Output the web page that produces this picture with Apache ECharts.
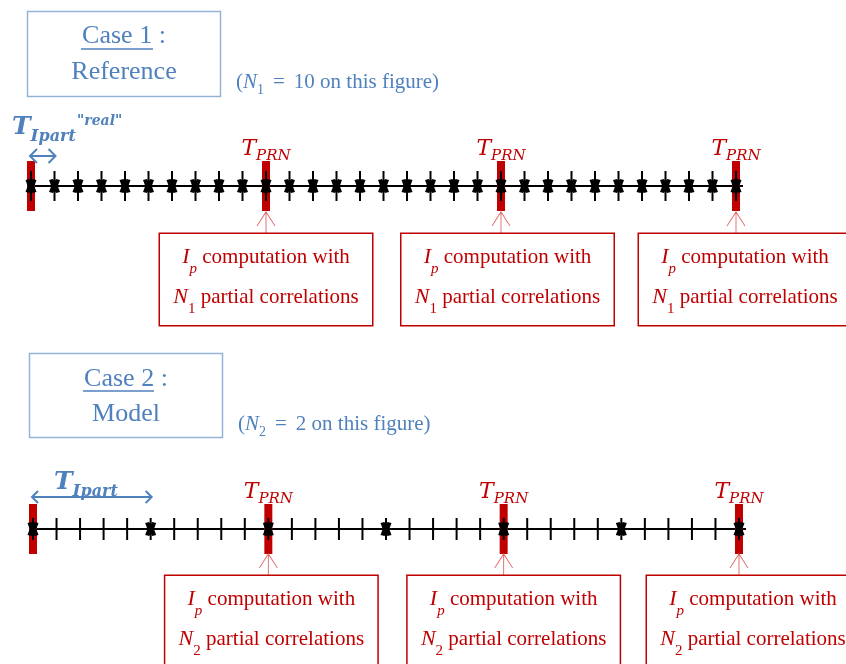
<!DOCTYPE html>
<html><head><meta charset="utf-8">
<script src="https://cdn.jsdelivr.net/npm/echarts@6/dist/echarts.min.js"></script>
<style>html,body{margin:0;padding:0;background:#fff}#c{width:846px;height:664px}</style>
</head><body><div id="c"></div>
<script>
// ---------- data ----------
const case1Ticks = [0,1,2,3,4,5,6,7,8,9,10,11,12,13,14,15,16,17,18,19,20,21,22,23,24,25,26,27,28,29,30];
const case1Stars = [0,1,2,3,4,5,6,7,8,9,10,11,12,13,14,15,16,17,18,19,20,21,22,23,24,25,26,27,28,29,30];
const case1PRN = [0,10,20,30];
const case1Computations = [10,20,30];
const case1Ipart = [0,1];
const case2Ticks = [0,1,2,3,4,5,6,7,8,9,10,11,12,13,14,15,16,17,18,19,20,21,22,23,24,25,26,27,28,29,30];
const case2Stars = [0,5,10,15,20,25,30];
const case2PRN = [0,10,20,30];
const case2Computations = [10,20,30];
const case2Ipart = [0,5];
const caseTitles = ['Case 1', 'Case 2'];
const caseNames = ['Reference', 'Model'];
const caseN = ['1', '2'];
const caseNValues = ['10', '2'];
const boxLine1 = ' computation with';
const boxLine2 = ' partial correlations';

// ---------- styles ----------
const BLUE = '#4f81bd', BLUE_BORDER = '#95b3d7', RED = '#c00000', PTR = '#e06666';
const SERIF = 'Liberation Serif', MATH = 'DejaVu Serif';
const STAR = 'path://M0,1 L4,0 L5.5,2.5 L7,0 L11,1 L8.8,7 L11,13 L7,14 L5.5,11.5 L4,14 L0,13 L2.2,7 Z';
const POINTER = 'path://M0,14 L9,0 L18,14 M9,0 L9,22';
const layout = [
  {tickH: 30, ptrOff: 37, boxDist: 48, boxShift: [0, 6.5, 9],
   ipart: {rise: 30, head: 7, tx: -19, ty: -47, real: true, rx: 46, ry: -35, x2pad: 1}},
  {tickH: 22, ptrOff: 36, boxDist: 47, boxShift: [3, 10, 14],
   ipart: {rise: 32, head: 6, tx: 21, ty: -33, real: false, x2pad: 1}}
];
function rs(o, c) { o.color = c; o.fill = c; return o; }

const tprnRich = {
  T: rs({fontFamily: MATH, fontStyle: 'italic', fontSize: 22, lineHeight: 30}, RED),
  s: rs({fontFamily: MATH, fontStyle: 'italic', fontSize: 15, lineHeight: 18, verticalAlign: 'bottom'}, RED)
};
const ipartRich = {
  T: rs({fontFamily: MATH, fontStyle: 'italic', fontWeight: 'bold', fontSize: 25, lineHeight: 36}, BLUE),
  i: rs({fontFamily: MATH, fontStyle: 'italic', fontWeight: 'bold', fontSize: 17, lineHeight: 28, verticalAlign: 'bottom'}, BLUE),
  p: rs({fontFamily: MATH, fontStyle: 'italic', fontWeight: 'bold', fontSize: 16, lineHeight: 14, verticalAlign: 'bottom'}, BLUE)
};
const boxRich = {
  t: rs({fontFamily: SERIF, fontSize: 21, lineHeight: 40}, RED),
  m: rs({fontFamily: SERIF, fontStyle: 'italic', fontSize: 22, lineHeight: 40}, RED),
  s: rs({fontFamily: SERIF, fontStyle: 'italic', fontSize: 15, lineHeight: 26, verticalAlign: 'bottom'}, RED),
  n: rs({fontFamily: SERIF, fontSize: 15, lineHeight: 26, verticalAlign: 'bottom'}, RED)
};

function caseSeries(gi, ticks, stars, prn, comps, ipart) {
  const L = layout[gi];
  const axisArgs = {xAxisIndex: gi, yAxisIndex: gi, silent: true, clip: false, animation: false};
  return [
    // time axis line
    Object.assign({type: 'custom', z: 1, data: [[ticks[0], ticks[ticks.length - 1]]],
      renderItem(params, api) {
        const a = api.coord([api.value(0), 0]);
        const b = api.coord([api.value(1), 0]);
        return {type: 'line', shape: {x1: a[0] - 3, y1: a[1], x2: b[0] + 7, y2: b[1]},
          style: {stroke: '#000', lineWidth: 2}};
      }}, axisArgs),
    // PRN red bars
    Object.assign({type: 'scatter', z: 2, symbol: 'rect', symbolSize: [8, 50],
      itemStyle: {color: RED, opacity: 1}, data: prn.map(v => [v, 0])}, axisArgs),
    // ticks
    Object.assign({type: 'scatter', z: 3, symbol: 'rect', symbolSize: [2, L.tickH],
      itemStyle: {color: '#000', opacity: 1}, data: ticks.map(v => [v, 0])}, axisArgs),
    // partial correlation stars
    Object.assign({type: 'scatter', z: 4, symbol: STAR, symbolSize: [11, 14],
      itemStyle: {color: '#000', opacity: 1}, data: stars.map(v => [v, 0])}, axisArgs),
    // pointers
    Object.assign({type: 'scatter', z: 3, symbol: POINTER, symbolSize: [18, 22], symbolOffset: [0, L.ptrOff],
      itemStyle: {color: 'rgba(0,0,0,0)', borderColor: PTR, borderWidth: 1, opacity: 1}, data: comps.map(v => [v, 0])}, axisArgs),
    // T_PRN labels
    Object.assign({type: 'scatter', z: 5, symbolSize: 0, itemStyle: {color: 'rgba(0,0,0,0)', opacity: 1},
      label: {show: true, position: 'top', distance: 22, formatter: '{T|T}{s|PRN}', rich: tprnRich},
      data: comps.map(v => [v, 0])}, axisArgs),
    // computation boxes
    Object.assign({type: 'scatter', z: 6, symbolSize: 0, itemStyle: {color: 'rgba(0,0,0,0)', opacity: 1},
      label: {show: true, position: 'bottom', distance: L.boxDist, align: 'center',
        formatter: '{m|I}{s|p}{t|' + boxLine1 + '}\n{m|N}{n|' + caseN[gi] + '}{t|' + boxLine2 + '}',
        rich: boxRich, backgroundColor: '#fff', borderColor: RED, borderWidth: 1.5,
        width: 212, height: 80, padding: [3, 0, 8, 0]},
      data: comps.map((v, k) => ({value: [v, 0], label: {offset: [L.boxShift[k], 0]}}))}, axisArgs),
    // T_Ipart double arrow
    Object.assign({type: 'custom', z: 5, data: [ipart],
      renderItem(params, api) {
        const o = L.ipart;
        const a = api.coord([api.value(0), 0]);
        const b = api.coord([api.value(1), 0]);
        const y = a[1] - o.rise;
        const x1 = a[0] - 1, x2 = b[0] + o.x2pad, h = o.head;
        const kids = [
          {type: 'line', shape: {x1: x1, y1: y, x2: x2, y2: y}, style: {stroke: BLUE, lineWidth: 2}},
          {type: 'polyline', shape: {points: [[x1 + h, y - h], [x1, y], [x1 + h, y + h]]}, style: {stroke: BLUE, lineWidth: 2, fill: null}},
          {type: 'polyline', shape: {points: [[x2 - h, y - h], [x2, y], [x2 - h, y + h]]}, style: {stroke: BLUE, lineWidth: 2, fill: null}},
          {type: 'text', x: a[0] + o.tx, y: y + o.ty, style: {text: '{T|T}{i|I}{p|part}', rich: ipartRich, fill: BLUE, align: 'left', verticalAlign: 'top'}}
        ];
        if (o.real) kids.push({type: 'text', x: a[0] + o.rx, y: y + o.ry,
          style: {text: '"real"', fontFamily: MATH, fontStyle: 'italic', fontWeight: 'bold', fontSize: 14, fill: BLUE, align: 'left', verticalAlign: 'middle'}});
        return {type: 'group', children: kids};
      }}, axisArgs)
  ];
}

const noteRich = {
  p: rs({fontFamily: SERIF, fontSize: 21, lineHeight: 30}, BLUE),
  n: rs({fontFamily: SERIF, fontStyle: 'italic', fontSize: 21, lineHeight: 30}, BLUE),
  s: rs({fontFamily: SERIF, fontSize: 14, lineHeight: 22, verticalAlign: 'bottom'}, BLUE),
  e: rs({fontFamily: SERIF, fontSize: 21, lineHeight: 30, padding: [0, 9, 0, 9]}, BLUE)
};
function titleGraphics(k, box, line1Y, line2Y, ul, noteX, noteY) {
  const cx = box.x + box.w / 2;
  const font = {fontFamily: SERIF, fontSize: 26, fill: BLUE, align: 'center', verticalAlign: 'middle'};
  return [
    {type: 'rect', shape: {x: box.x, y: box.y, width: box.w, height: box.h}, style: {fill: '#fff', stroke: BLUE_BORDER, lineWidth: 1.5}},
    {type: 'text', x: cx, y: line1Y, style: Object.assign({text: caseTitles[k] + ' :'}, font)},
    {type: 'line', shape: {x1: ul[0], y1: ul[2], x2: ul[1], y2: ul[2]}, style: {stroke: BLUE, lineWidth: 1.5}},
    {type: 'text', x: cx, y: line2Y, style: Object.assign({text: caseNames[k]}, font)},
    {type: 'text', x: noteX, y: noteY, style: {text: '{p|(}{n|N}{s|' + caseN[k] + '}{e|=}{p|' + caseNValues[k] + ' on this figure)}', rich: noteRich, fill: BLUE, align: 'left', verticalAlign: 'middle'}}
  ];
}

const chart = echarts.init(document.getElementById('c'));
chart.setOption({
  animation: false,
  backgroundColor: '#fff',
  grid: [
    {left: 31, width: 705, top: 161, height: 50},
    {left: 33, width: 706, top: 504, height: 50}
  ],
  xAxis: [
    {gridIndex: 0, type: 'value', min: 0, max: 30, show: false},
    {gridIndex: 1, type: 'value', min: 0, max: 30, show: false}
  ],
  yAxis: [
    {gridIndex: 0, type: 'value', min: -1, max: 1, show: false},
    {gridIndex: 1, type: 'value', min: -1, max: 1, show: false}
  ],
  graphic: [].concat(
    titleGraphics(0, {x: 27.5, y: 11.5, w: 193, h: 85}, 36, 72, [81, 153, 49], 236, 82),
    titleGraphics(1, {x: 29.5, y: 353.5, w: 193, h: 84}, 379, 414, [83, 154, 391], 238, 424)
  ),
  series: [].concat(
    caseSeries(0, case1Ticks, case1Stars, case1PRN, case1Computations, case1Ipart),
    caseSeries(1, case2Ticks, case2Stars, case2PRN, case2Computations, case2Ipart)
  )
});
</script></body></html>
